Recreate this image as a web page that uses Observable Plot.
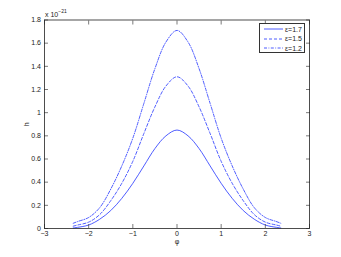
<!DOCTYPE html>
<html><head><meta charset="utf-8">
<script src="https://cdn.jsdelivr.net/npm/d3@7"></script>
<script src="https://cdn.jsdelivr.net/npm/@observablehq/plot@0.6"></script>
<style>
body{margin:0;background:#fff;font-family:"Liberation Sans",Arial,sans-serif;}
#wrap{position:relative;width:341px;height:257px;}
#exp{position:absolute;left:45px;top:9px;font-size:7px;color:#222;}
#exp sup{font-size:5px;position:relative;top:-1px;}
#legend{position:absolute;left:259px;top:23px;width:46px;height:30px;border:0.6px solid #333;background:#fff;box-sizing:border-box;font-size:7px;color:#222;}
#legend .row{position:absolute;left:3px;height:8px;display:flex;align-items:center;}
#legend svg{display:block;margin-right:1px;}
</style>
</head><body>
<div id="wrap"><div id="chart"></div><div id="exp">x 10<sup>−21</sup></div><div id="legend"></div></div>
<script>
const phi = [-2.35,-2.25,-2,-1.75,-1.5,-1.25,-1,-0.75,-0.5,-0.25,0,0.25,0.5,0.75,1,1.25,1.5,1.75,2,2.25,2.35];
const h17 = [0.005,0.01,0.03,0.08,0.155,0.26,0.39,0.54,0.69,0.80,0.85,0.80,0.69,0.54,0.39,0.26,0.155,0.08,0.03,0.01,0.005];
const h15 = [0.02,0.03,0.055,0.12,0.24,0.39,0.58,0.82,1.05,1.23,1.31,1.23,1.05,0.82,0.58,0.39,0.24,0.12,0.055,0.03,0.02];
const h12 = [0.045,0.06,0.095,0.18,0.34,0.54,0.78,1.08,1.38,1.61,1.71,1.61,1.38,1.08,0.78,0.54,0.34,0.18,0.095,0.06,0.045];
const seriesNames = ["ε=1.7","ε=1.5","ε=1.2"];
const xTicks = [-3,-2,-1,0,1,2,3];
const yTicks = [0,0.2,0.4,0.6,0.8,1,1.2,1.4,1.6,1.8];

const dashes = [null,"3,2","3,1.5,0.8,1.5"];
const seriesVals = [h17,h15,h12];
const data = seriesVals.map((vals,i)=>phi.map((p,j)=>({phi:p,h:vals[j],s:seriesNames[i]})));

const tickFmt = d => d === 0 ? "0" : (Math.abs(d) < 1e-9 ? "0" : String(+d.toFixed(1))).replace("-", "−");

const plot = Plot.plot({
  width:341, height:257,
  marginLeft:44, marginRight:32, marginTop:19.5, marginBottom:29,
  style:{fontFamily:"Liberation Sans, Arial, sans-serif", fontSize:"7px", color:"#222", background:"#fff"},
  x:{domain:[-3,3]},
  y:{domain:[0,1.8]},
  marks:[
    ...data.map((d,i)=>Plot.line(d,{x:"phi",y:"h",stroke:"#2233ff",strokeWidth:0.8,strokeDasharray:dashes[i],curve:"catmull-rom"})),
    Plot.axisX({anchor:"bottom",ticks:xTicks,tickSize:-4,tickPadding:7,tickFormat:tickFmt,label:"φ",labelAnchor:"center",labelOffset:15,labelArrow:"none",stroke:"#222",strokeWidth:0.6}),
    Plot.axisX({anchor:"top",ticks:xTicks,tickSize:-4,tickFormat:()=>"",label:null,stroke:"#222",strokeWidth:0.6}),
    Plot.axisY({anchor:"left",ticks:yTicks,tickSize:-4,tickPadding:7.5,tickFormat:tickFmt,label:"h",labelAnchor:"center",labelOffset:20,labelArrow:"none",stroke:"#222",strokeWidth:0.6}),
    Plot.axisY({anchor:"right",ticks:yTicks,tickSize:-4,tickFormat:()=>"",label:null,stroke:"#222",strokeWidth:0.6}),
    Plot.frame({stroke:"#222",strokeWidth:0.8})
  ]
});
document.getElementById("chart").appendChild(plot);

const leg = document.getElementById("legend");
seriesNames.forEach((n,i)=>{
  const row = document.createElement("div");
  row.className="row";
  row.style.top = (1 + i*9.5) + "px";
  row.innerHTML = `<svg width="21" height="8"><line x1="1" y1="4" x2="20" y2="4" stroke="#2233ff" stroke-width="0.8" ${dashes[i]?`stroke-dasharray="${dashes[i]}"`:""}/></svg><span>${n}</span>`;
  leg.appendChild(row);
});
</script>
</body></html>
